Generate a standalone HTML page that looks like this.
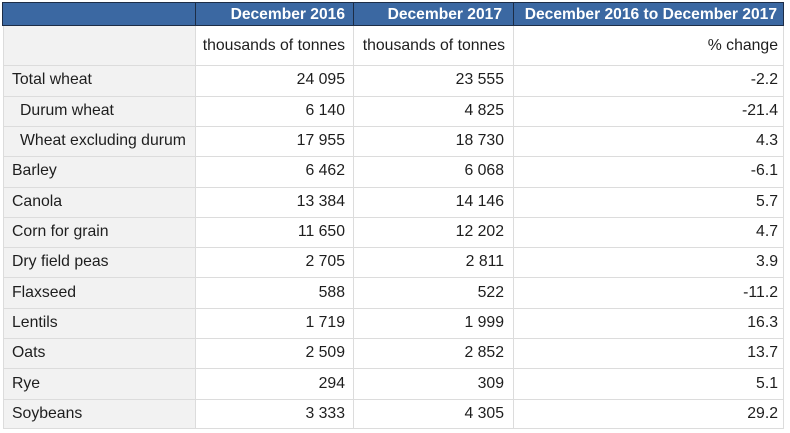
<!DOCTYPE html>
<html>
<head>
<meta charset="utf-8">
<style>
html,body{margin:0;padding:0;background:#fff;}
body{width:790px;height:433px;position:relative;overflow:hidden;font-family:"Liberation Sans",Arial,sans-serif;}
.a{position:absolute;}
.hl{position:absolute;height:1px;background:#dcdcdc;left:3px;width:781px;}
.vl{position:absolute;width:1px;background:#dcdcdc;}
.t{position:absolute;font-size:15.8px;color:#1e1e1e;white-space:nowrap;line-height:30px;height:30px;}
.r{text-align:right;}
.h{position:absolute;font-size:15.6px;font-weight:bold;color:#fff;white-space:nowrap;line-height:23px;top:3px;text-align:right;}
</style>
</head>
<body>
<div class="a" style="left:3px;top:26px;width:192px;height:403px;background:#f2f2f2;"></div>
<div class="a" style="left:2px;top:2px;width:780px;height:22px;background:#3b68a2;border:1px solid #1d2d46;"></div>
<div class="a" style="left:195px;top:2px;width:1px;height:24px;background:#1d2d46;"></div>
<div class="a" style="left:353px;top:2px;width:1px;height:24px;background:#1d2d46;"></div>
<div class="a" style="left:513px;top:2px;width:1px;height:24px;background:#1d2d46;"></div>

<div class="h" style="right:445px;">December 2016</div>
<div class="h" style="right:288px;">December 2017</div>
<div class="h" style="right:13px;">December 2016 to December 2017</div>

<div class="vl" style="left:3px;top:26px;height:403px;"></div>
<div class="vl" style="left:195px;top:26px;height:403px;"></div>
<div class="vl" style="left:353px;top:26px;height:403px;"></div>
<div class="vl" style="left:513px;top:26px;height:403px;"></div>
<div class="vl" style="left:783px;top:26px;height:403px;"></div>

<div class="hl" style="top:65px;"></div>
<div class="hl" style="top:96px;"></div>
<div class="hl" style="top:126px;"></div>
<div class="hl" style="top:156px;"></div>
<div class="hl" style="top:187px;"></div>
<div class="hl" style="top:217px;"></div>
<div class="hl" style="top:247px;"></div>
<div class="hl" style="top:277px;"></div>
<div class="hl" style="top:308px;"></div>
<div class="hl" style="top:338px;"></div>
<div class="hl" style="top:368px;"></div>
<div class="hl" style="top:399px;"></div>
<div class="hl" style="top:428px;"></div>

<div class="t r" style="top:26px;line-height:39px;height:39px;right:445px;">thousands of tonnes</div>
<div class="t r" style="top:26px;line-height:39px;height:39px;right:285px;">thousands of tonnes</div>
<div class="t r" style="top:26px;line-height:39px;height:39px;right:12px;">% change</div>

<div class="t" style="top:65px;left:12px;">Total wheat</div>
<div class="t r" style="top:65px;right:445px;">24 095</div>
<div class="t r" style="top:65px;right:286px;">23 555</div>
<div class="t r" style="top:65px;right:12px;">-2.2</div>

<div class="t" style="top:95.5px;left:20px;">Durum wheat</div>
<div class="t r" style="top:95.5px;right:445px;">6 140</div>
<div class="t r" style="top:95.5px;right:286px;">4 825</div>
<div class="t r" style="top:95.5px;right:12px;">-21.4</div>

<div class="t" style="top:126px;left:20px;">Wheat excluding durum</div>
<div class="t r" style="top:126px;right:445px;">17 955</div>
<div class="t r" style="top:126px;right:286px;">18 730</div>
<div class="t r" style="top:126px;right:12px;">4.3</div>

<div class="t" style="top:156px;left:12px;">Barley</div>
<div class="t r" style="top:156px;right:445px;">6 462</div>
<div class="t r" style="top:156px;right:286px;">6 068</div>
<div class="t r" style="top:156px;right:12px;">-6.1</div>

<div class="t" style="top:186.5px;left:12px;">Canola</div>
<div class="t r" style="top:186.5px;right:445px;">13 384</div>
<div class="t r" style="top:186.5px;right:286px;">14 146</div>
<div class="t r" style="top:186.5px;right:12px;">5.7</div>

<div class="t" style="top:217px;left:12px;">Corn for grain</div>
<div class="t r" style="top:217px;right:445px;">11 650</div>
<div class="t r" style="top:217px;right:286px;">12 202</div>
<div class="t r" style="top:217px;right:12px;">4.7</div>

<div class="t" style="top:247px;left:12px;">Dry field peas</div>
<div class="t r" style="top:247px;right:445px;">2 705</div>
<div class="t r" style="top:247px;right:286px;">2 811</div>
<div class="t r" style="top:247px;right:12px;">3.9</div>

<div class="t" style="top:277.5px;left:12px;">Flaxseed</div>
<div class="t r" style="top:277.5px;right:445px;">588</div>
<div class="t r" style="top:277.5px;right:286px;">522</div>
<div class="t r" style="top:277.5px;right:12px;">-11.2</div>

<div class="t" style="top:308px;left:12px;">Lentils</div>
<div class="t r" style="top:308px;right:445px;">1 719</div>
<div class="t r" style="top:308px;right:286px;">1 999</div>
<div class="t r" style="top:308px;right:12px;">16.3</div>

<div class="t" style="top:338px;left:12px;">Oats</div>
<div class="t r" style="top:338px;right:445px;">2 509</div>
<div class="t r" style="top:338px;right:286px;">2 852</div>
<div class="t r" style="top:338px;right:12px;">13.7</div>

<div class="t" style="top:368.5px;left:12px;">Rye</div>
<div class="t r" style="top:368.5px;right:445px;">294</div>
<div class="t r" style="top:368.5px;right:286px;">309</div>
<div class="t r" style="top:368.5px;right:12px;">5.1</div>

<div class="t" style="top:399px;left:12px;">Soybeans</div>
<div class="t r" style="top:399px;right:445px;">3 333</div>
<div class="t r" style="top:399px;right:286px;">4 305</div>
<div class="t r" style="top:399px;right:12px;">29.2</div>
</body>
</html>
